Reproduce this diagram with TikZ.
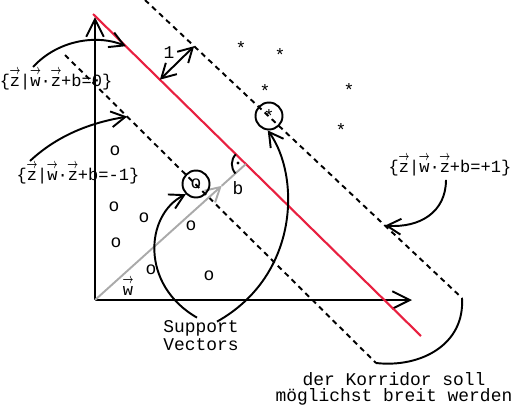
\documentclass[tikz,border=0pt]{standalone}
\usepackage{fontspec}
\setmonofont{Liberation Mono}
\usepackage{amsmath}
\usepackage{graphicx}
\usetikzlibrary{arrows.meta, calc, positioning}
\definecolor{SepRed}{RGB}{232,32,64}
\definecolor{VecGray}{RGB}{170,170,170}
\newcommand{\pfeil}[1]{\makebox[0pt][l]{\raisebox{0.66em}{\makebox[0.6em]{\resizebox{0.64em}{0.32em}{$\boldsymbol{\rightarrow}$}}}}#1}
\tikzset{
    axis/.style={
        -{Straight Barb[length=10pt,width=10pt]}, line width=1.1pt
    },
    hyperplane/.style={
        line width=1.2pt, SepRed
    },
    margin/.style={
        line width=1.1pt, dash pattern=on 3pt off 2.5pt
    },
    callout/.style={
        -{Straight Barb[length=8pt,width=9pt]}, line width=1.1pt
    },
    sample/.style={
        font=\ttfamily\fontsize{10.2}{12}\selectfont, inner sep=0pt
    },
    support/.style={
        circle, draw, line width=1.1pt, minimum size=0.54cm, inner sep=0pt,
        font=\ttfamily\fontsize{10.2}{12}\selectfont
    },
    labeltext/.style={
        font=\ttfamily\fontsize{10.2}{12}\selectfont, align=center, inner sep=0pt
    },
    formula/.style={
        font=\ttfamily\fontsize{9.7}{12}\selectfont, inner sep=0pt, anchor=base
    }
}

\begin{document}
\begin{tikzpicture}[x=0.02cm, y=-0.02cm]
    \useasboundingbox (0,0) rectangle (515,407);

    % axes and lines
    \coordinate (O) at (95,300);
    \coordinate (yend) at (95,17);
    \coordinate (xend) at (412,300);
    \coordinate (hA) at (93,14);
    \coordinate (hB) at (421,336);
    \coordinate (uA) at (145,0);
    \coordinate (uB) at (462,298);
    \coordinate (lA) at (65,55);
    \coordinate (lB) at (376,363);
    \coordinate (foot) at ($(hA)!0.466!(hB)$);
    \coordinate (wtip) at ($(O)!0.84!(foot)$);

    \draw[axis] (O) -- (yend);
    \draw[axis] (O) -- (xend);
    \draw[margin] (uA) -- (uB);
    \draw[margin] (lA) -- (lB);
    \draw[hyperplane] (hA) -- (hB);

    % corridor end
    \draw[line width=1.1pt] (uB) .. controls (465,345) and (420,368) .. (lB);

    % normal vector and offset
    \draw[callout, VecGray] (O) -- (wtip);
    \draw[VecGray, line width=1.1pt] (wtip) -- (foot);
    \draw[line width=1.1pt] (foot) ++(224:14) arc[start angle=224, end angle=138, radius=14];
    \fill (238,163) circle[radius=0.9pt];
    \node[sample] (blabel) at (238,188) {b};
    \node[formula] (wlabel) at (128,295) {\pfeil{w}};

    % width 1
    \draw[{Straight Barb[length=8pt,width=9pt]}-{Straight Barb[length=8pt,width=9pt]}, line width=1.1pt]
        ($(hA)!0.204!(hB)$) -- ($(uA)!0.155!(uB)$);
    \node[sample] (one) at (169,53) {1};

    % class o
    \node[sample] (p1) at (115,151) {o};
    \node[sample] (p2) at (114,207) {o};
    \node[sample] (p3) at (144,218) {o};
    \node[sample] (p4) at (116,243) {o};
    \node[sample] (p5) at (191,226) {o};
    \node[sample] (p6) at (151,270) {o};
    \node[sample] (p7) at (209,276) {o};
    \node[support] (sv1) at (196,184) {o};

    % class *
    \node[sample] (s1) at (241,48) {*};
    \node[sample] (s2) at (280,55) {*};
    \node[sample] (s3) at (265,91) {*};
    \node[sample] (s4) at (349,90) {*};
    \node[sample] (s5) at (341,130) {*};
    \node[support] (sv2) at (269,116) {*};

    % labels
    \node[formula] (hyp0) at (56,86) {\{\pfeil{z}|\pfeil{w}·\pfeil{z}+b=0\}};
    \node[formula] (hypm) at (78,180) {\{\pfeil{z}|\pfeil{w}·\pfeil{z}+b=-1\}};
    \node[formula] (hypp) at (450,172) {\{\pfeil{z}|\pfeil{w}·\pfeil{z}+b=+1\}};
    \node[labeltext, font=\ttfamily\fontsize{10.2}{10.2}\selectfont] (svtext) at (201,336) {Support\\Vectors};
    \node[labeltext, font=\ttfamily\fontsize{10.2}{8.8}\selectfont] (korridor) at (394,389) {der Korridor soll\\möglichst breit werden};

    % callouts
    \draw[callout] ($(hyp0.north)+(-23,-2)$) .. controls (60,38) and (100,35) .. ($(hA)!0.1!(hB)$);
    \draw[callout] ($(hypm.north)+(-48,-2)$) .. controls (60,133) and (95,122) .. ($(lA)!0.2!(lB)$);
    \draw[callout] ($(hypp.south)+(-4,4)$) .. controls (446,212) and (420,228) .. ($(uA)!0.757!(uB)$);
    \draw[callout] ($(svtext.north)+(-4,-3)$) .. controls (140,285) and (145,215) .. (sv1.225);
    \draw[callout] ($(svtext.north)+(16,1)$) .. controls (300,275) and (300,175) .. (sv2.265);
\end{tikzpicture}
\end{document}
